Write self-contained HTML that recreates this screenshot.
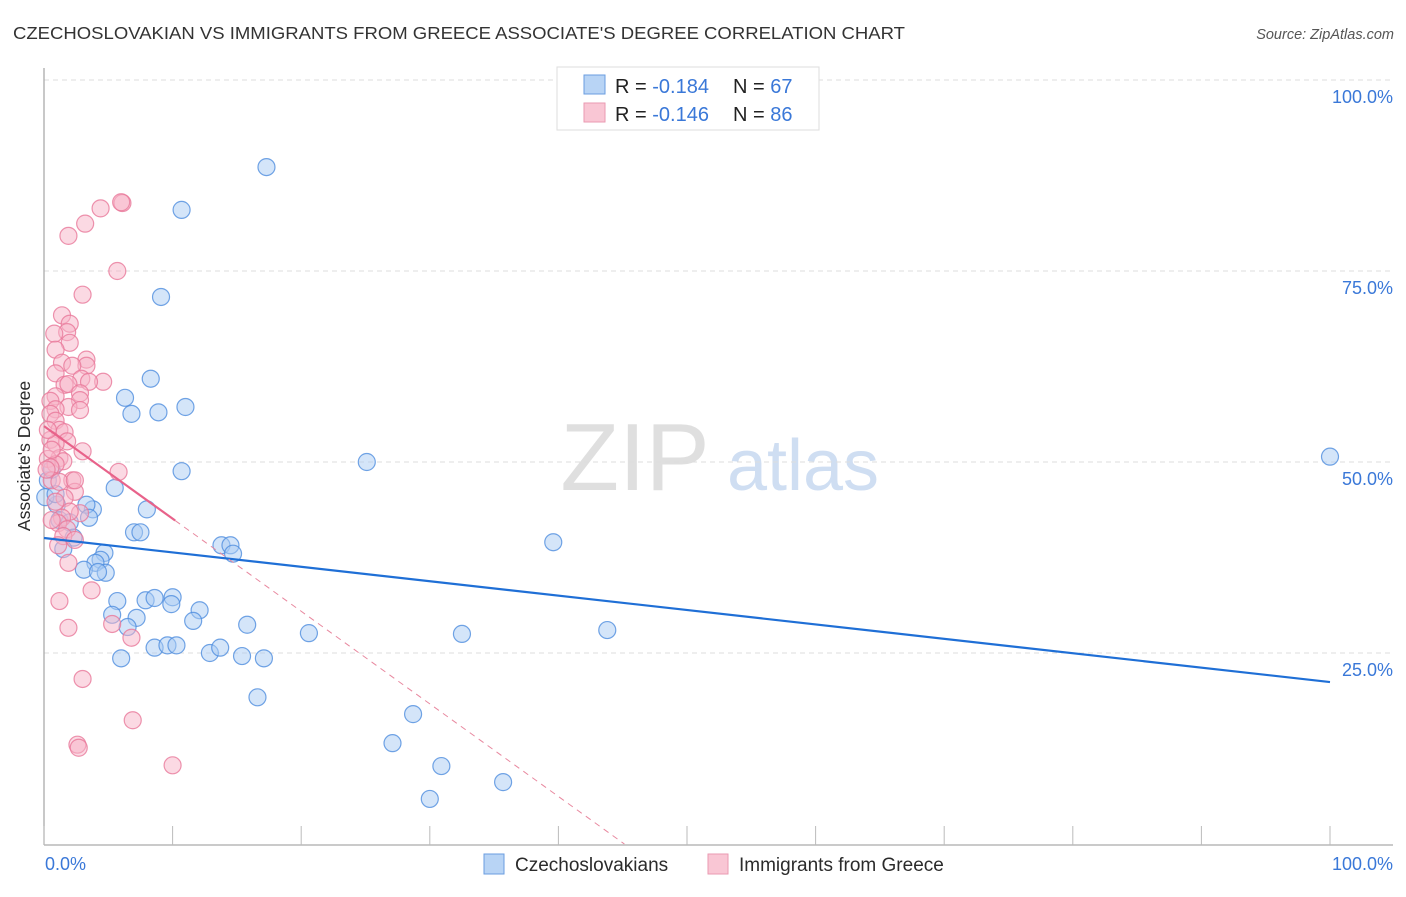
<!DOCTYPE html>
<html><head><meta charset="utf-8"><style>
body{margin:0;background:#fff;font-family:"Liberation Sans",sans-serif;}
svg text{font-family:"Liberation Sans",sans-serif;}
</style></head><body>
<svg id="chart" width="1406" height="892" viewBox="0 0 1406 892" xmlns="http://www.w3.org/2000/svg">
<text x="13" y="39" font-size="17.5" fill="#333" textLength="892" lengthAdjust="spacingAndGlyphs">CZECHOSLOVAKIAN VS IMMIGRANTS FROM GREECE ASSOCIATE'S DEGREE CORRELATION CHART</text>
<text x="1394" y="39" font-size="14.5" fill="#555" text-anchor="end" font-style="italic">Source: ZipAtlas.com</text>
<g>
<text x="635" y="490" font-size="96" fill="#d8d8d8" font-family="Liberation Serif" text-anchor="middle" opacity="0.8">ZIP</text>
<text x="803" y="490" font-size="72" fill="#c4d6f0" text-anchor="middle" opacity="0.8">atlas</text>
</g>
<g id="grid"></g>
<g id="axes"></g>
<g id="blue"></g>
<g id="pink"></g>
<g id="trend"></g>
<text transform="translate(30,456) rotate(-90)" font-size="17.5" fill="#2b2b2b" text-anchor="middle">Associate's Degree</text>
<g>
<rect x="557" y="67" width="262" height="63" fill="#fff" stroke="#ddd"/>
<rect x="584" y="75" width="21" height="19" fill="#b8d4f5" stroke="#6a9de0"/>
<rect x="584" y="103" width="21" height="19" fill="#f9c6d4" stroke="#ea9ab2"/>
<text x="615" y="93" font-size="20" fill="#222">R = <tspan fill="#3a78d8">-0.184</tspan><tspan x="733">N = </tspan><tspan fill="#3a78d8">67</tspan></text>
<text x="615" y="121" font-size="20" fill="#222">R = <tspan fill="#3a78d8">-0.146</tspan><tspan x="733">N = </tspan><tspan fill="#3a78d8">86</tspan></text>
</g>
<g>
<rect x="484" y="854" width="20" height="20" fill="#b8d4f5" stroke="#6a9de0"/>
<text x="515" y="871" font-size="19" fill="#2b2b2b">Czechoslovakians</text>
<rect x="708" y="854" width="20" height="20" fill="#f9c6d4" stroke="#ea9ab2"/>
<text x="739" y="871" font-size="19" fill="#2b2b2b">Immigrants from Greece</text>
</g>
</svg>
<script>
const blueX=[17.3,10.7,9.1,8.3,6.3,6.8,8.9,11.0,10.7,25.1,100,5.5,8.0,3.8,3.3,3.5,1.0,1.2,2.0,2.3,1.5,4.7,7.0,7.5,4.4,4.0,4.8,3.1,4.2,13.8,14.5,14.7,39.6,5.7,7.9,8.6,10.0,9.9,12.1,5.3,7.2,6.5,11.6,15.8,20.6,32.5,43.8,8.6,9.6,10.3,12.9,13.7,15.4,17.1,6.0,16.6,28.7,27.1,30.9,35.7,30.0,0.1,0.9,0.3,0.6];
const blueY=[88.6,83.0,71.6,60.9,58.4,56.3,56.5,57.2,48.8,50.0,50.7,46.6,43.8,43.8,44.4,42.7,44.4,42.4,42.1,40.1,38.6,38.1,40.8,40.8,37.2,36.8,35.5,35.9,35.6,39.1,39.1,38.0,39.5,31.8,31.9,32.2,32.3,31.4,30.6,30.0,29.6,28.4,29.2,28.7,27.6,27.5,28.0,25.7,26.0,26.0,25.0,25.7,24.6,24.3,24.3,19.2,17.0,13.2,10.2,8.1,5.9,45.4,45.8,47.6,49.0];
const pinkX=[6.1,6.0,4.4,3.2,1.9,5.7,3.0,1.4,2.0,1.8,0.8,2.0,0.9,3.3,1.4,3.3,2.2,0.9,4.6,2.9,1.6,1.9,3.5,2.8,0.9,0.5,2.8,1.9,0.9,2.8,0.5,0.9,1.2,1.6,1.8,0.5,3.0,0.9,1.2,0.3,1.5,0.9,0.5,5.8,2.2,0.6,1.2,2.4,1.6,0.9,2.8,2.0,1.4,1.1,1.8,1.5,2.4,1.9,3.7,1.2,5.3,6.8,1.9,3.0,6.9,2.6,2.7,10.0,0.3,0.6,0.2,0.6,2.4,1.1];
const pinkY=[83.9,84.0,83.2,81.2,79.6,75.0,71.9,69.2,68.1,67.0,66.8,65.6,64.7,63.4,63.0,62.6,62.6,61.6,60.5,60.9,60.1,60.2,60.5,59.0,58.6,58.0,58.1,57.2,56.9,56.8,56.3,55.4,54.2,53.9,52.7,52.9,51.4,52.4,50.5,50.4,50.1,49.7,49.3,48.7,47.6,47.6,47.4,46.1,45.3,44.8,43.3,43.5,42.7,42.0,41.2,40.3,47.6,36.8,33.2,31.8,28.8,27.0,28.3,21.6,16.2,13.0,12.6,10.3,54.2,51.6,49.0,42.4,39.8,39.1];
const yTicks=[25,50,75,100];
const yTickLabels=["25.0%","50.0%","75.0%","100.0%"];
const xTicks=[0,10,20,30,40,50,60,70,80,90,100];
const blueTrend=[40.05,-0.1885];
const pinkTrend=[54.7,-1.212];
const pinkSolidEnd=10.2;

const NS="http://www.w3.org/2000/svg";
const X=v=>44+v*12.86, Y=v=>844-v*7.64;
function mk(tag,at,parent){const e=document.createElementNS(NS,tag);for(const k in at)e.setAttribute(k,at[k]);parent.appendChild(e);return e;}
const grid=document.getElementById('grid'),axes=document.getElementById('axes');
yTicks.forEach((t,i)=>{
  const l=mk('line',{x1:44,x2:1393,y1:Y(t),y2:Y(t),stroke:'#ddd','stroke-dasharray':'5,4'},grid);
  
  
  const tx=mk('text',{x:1393,y:Y(t)+23,'font-size':18,fill:'#3a78d8','text-anchor':'end'},axes);
  
  
  tx.textContent=yTickLabels[i];
});
const al=mk('line',{x1:44,x2:44,y1:68,y2:845,stroke:'#aaa','stroke-width':1.3},axes);


const bl=mk('line',{x1:44,x2:1393,y1:845,y2:845,stroke:'#aaa','stroke-width':1.3},axes);


xTicks.forEach(t=>{
  const k=mk('line',{x1:X(t),x2:X(t),y1:826,y2:845,stroke:'#bbb'},axes);
  
  
});
const x0=mk('text',{x:45,y:870,'font-size':18,fill:'#3a78d8'},axes);


x0.textContent='0.0%';
const x1=mk('text',{x:1393,y:870,'font-size':18,fill:'#3a78d8','text-anchor':'end'},axes);


x1.textContent='100.0%';
function dots(xs,ys,g,fill,stroke,name){
  xs.forEach((v,i)=>{
    const c=mk('circle',{cx:X(v),cy:Y(ys[i]),r:8.5,fill:fill,'fill-opacity':0.5,stroke:stroke,'stroke-width':1.2,'stroke-opacity':0.8},g);
    
    
  });
}
dots(pinkX,pinkY,document.getElementById('pink'),'#f7b3c7','#e8789a','greece-point');
dots(blueX,blueY,document.getElementById('blue'),'#a9cbf3','#4f8ddf','czech-point');
const tr=document.getElementById('trend');
const bt=mk('line',{x1:X(0),y1:Y(blueTrend[0]),x2:X(100),y2:Y(blueTrend[0]+blueTrend[1]*100),stroke:'#1f6fd6','stroke-width':2.2},tr);


const zeroX=-pinkTrend[0]/pinkTrend[1];
const pd=mk('line',{x1:X(pinkSolidEnd),y1:Y(pinkTrend[0]+pinkTrend[1]*pinkSolidEnd),x2:X(zeroX),y2:Y(0),stroke:'#e8889f','stroke-width':1,'stroke-dasharray':'6,5'},tr);


const ps=mk('line',{x1:X(0),y1:Y(pinkTrend[0]),x2:X(pinkSolidEnd),y2:Y(pinkTrend[0]+pinkTrend[1]*pinkSolidEnd),stroke:'#e8628a','stroke-width':2.2},tr);


</script>
</body></html>
